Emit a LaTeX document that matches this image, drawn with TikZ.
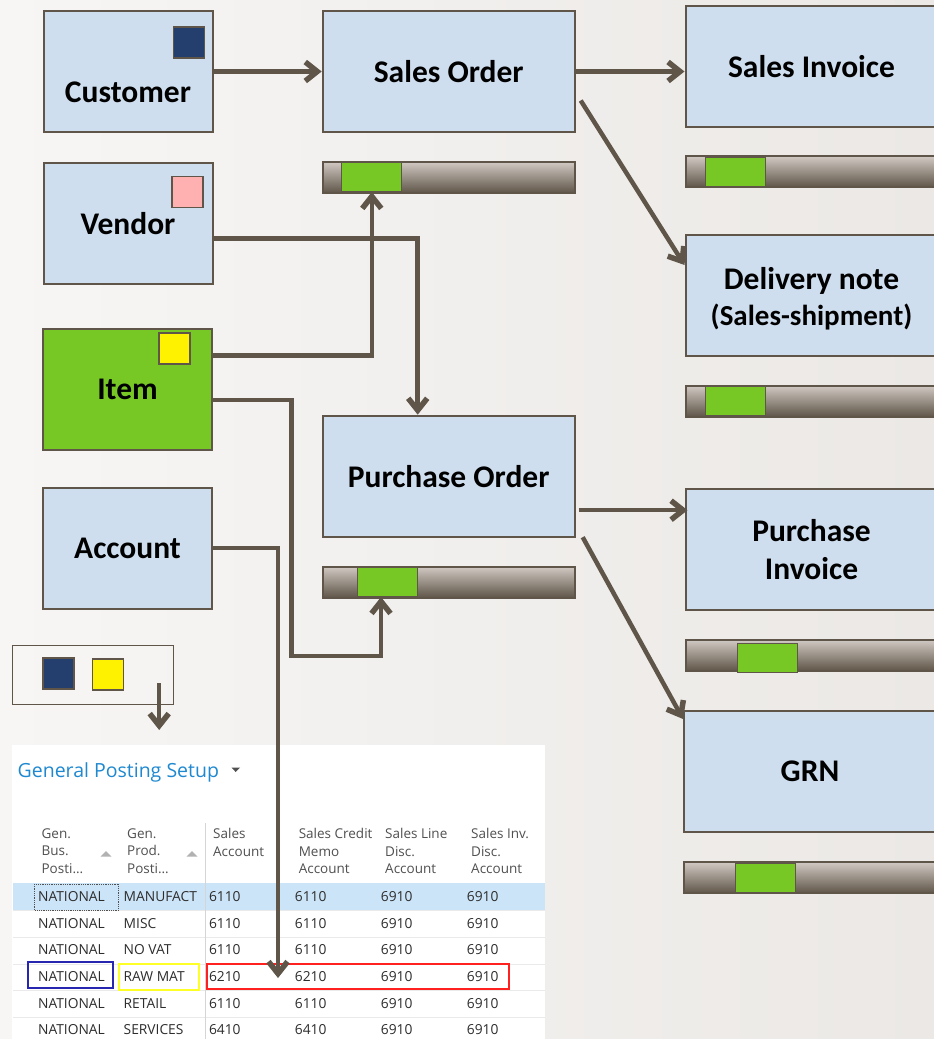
\documentclass[tikz,border=0pt]{standalone}
\usepackage{fontspec}
\setmainfont{Carlito}
\newfontfamily\uifont{Open Sans}
\usepackage{tikz}
\usetikzlibrary{arrows.meta}

\definecolor{linec}{RGB}{95,85,72}
\definecolor{boxblue}{RGB}{207,222,239}
\definecolor{itemgreen}{RGB}{119,200,37}
\definecolor{navy}{RGB}{36,63,110}
\definecolor{pinkish}{RGB}{255,176,176}
\definecolor{barlight}{RGB}{208,200,194}
\definecolor{barmid}{RGB}{165,156,147}
\definecolor{bgl}{RGB}{247,246,245}
\definecolor{bgr}{RGB}{235,232,229}
\definecolor{titleblue}{RGB}{30,136,208}
\definecolor{rowsel}{RGB}{204,228,247}
\definecolor{rowline}{RGB}{234,234,234}
\definecolor{cellc}{RGB}{45,45,45}
\definecolor{hdrc}{RGB}{80,80,80}
\definecolor{selblue}{RGB}{38,38,176}
\definecolor{selyellow}{RGB}{255,255,40}
\definecolor{selred}{RGB}{255,32,32}

\tikzset{
    ent/.style={draw=linec, line width=2pt, fill=boxblue, minimum width=169pt,
        minimum height=121pt, inner sep=0pt, align=center,
        font=\fontsize{31.5}{38}\selectfont\bfseries},
    doc/.style={ent, minimum width=252pt},
    bar/.style={draw=linec, line width=2pt, top color=barlight, middle color=barmid,
        bottom color=linec, minimum width=252pt, minimum height=31pt, inner sep=0pt},
    prog/.style={draw=linec, line width=1pt, fill=itemgreen, minimum width=60pt,
        minimum height=29pt, inner sep=0pt},
    swatch/.style={draw=linec, line width=1.2pt, minimum width=31pt, minimum height=31pt,
        inner sep=0pt},
    conn/.style={draw=linec, line width=4.5pt,
        -{Straight Barb[length=12pt,width=19pt,line width=5.5pt]}},
    hdr/.style={anchor=north west, inner sep=0pt, align=left, text=hdrc,
        font=\uifont\fontsize{13.5}{17.5}\selectfont},
    cell/.style={anchor=base west, inner sep=0pt, text=cellc,
        font=\uifont\fontsize{13.8}{15}\selectfont},
    selbox/.style={draw=#1, line width=2pt, inner sep=0pt}
}

\begin{document}
\begin{tikzpicture}[x=1pt, y=-1pt]
    % Background
    \clip (0,0) rectangle (934,1039);
    \shade[left color=bgl, right color=bgr] (0,0) rectangle (934,1039);

    % Master data
    \node[ent] (customer) at (128,71.5) {};
    \node[font=\fontsize{31.5}{38}\selectfont\bfseries] (customerlbl) at (128,92) {Customer};
    \node[swatch, fill=navy] (custsw) at (189,42.5) {};
    \node[ent] (vendor) at (128,223.5) {Vendor};
    \node[swatch, fill=pinkish] (vendsw) at (187.5,192) {};
    \node[ent, fill=itemgreen] (item) at (127.5,389) {Item};
    \node[swatch, fill=yellow] (itemsw) at (174.5,348.5) {};
    \node[ent] (account) at (127.5,548) {Account};

    % Documents
    \node[doc] (so) at (448.7,71.5) {Sales Order};
    \node[bar] (sobar) at (448.7,177.5) {};
    \node[prog] (soprog) at (371.8,177) {};
    \node[doc] (po) at (448.7,476.2) {Purchase Order};
    \node[bar] (pobar) at (448.7,582.2) {};
    \node[prog] (poprog) at (387,582) {};

    \node[doc] (si) at (811.5,66.3) {Sales Invoice};
    \node[bar] (sibar) at (811.5,171.8) {};
    \node[prog] (siprog) at (735.3,171.8) {};
    \node[doc] (dn) at (811.5,295.5) {};
    \node[align=center, font=\fontsize{31.5}{38}\selectfont\bfseries] (dnlbl) at (811.5,298.5)
        {Delivery note\\[-2pt]{\fontsize{29}{33}\selectfont(Sales-shipment)}};
    \node[bar] (dnbar) at (811.5,401.2) {};
    \node[prog] (dnprog) at (735.3,401.2) {};
    \node[doc] (pi) at (811.5,549.2) {Purchase\\Invoice};
    \node[bar] (pibar) at (811.5,655.4) {};
    \node[prog] (piprog) at (767.2,658) {};
    \node[doc] (grn) at (810,771.5) {GRN};
    \node[bar] (grnbar) at (810,877.8) {};
    \node[prog] (grnprog) at (765.5,877.8) {};

    % Legend
    \node[draw=linec, line width=1.5pt, minimum width=161pt, minimum height=59pt, inner sep=0pt] (legend) at (93,675) {};
    \node[swatch, fill=navy] (legnavy) at (58.4,673.5) {};
    \node[swatch, fill=yellow] (legyellow) at (108,674.5) {};
    \coordinate (legtail) at (159.2,683);
    \coordinate (legtip) at (159.2,730);

    % General Posting Setup
    \fill[white] (12,745) rectangle (545,1039);
    \node[anchor=west, inner sep=0pt, text=titleblue, font=\uifont\fontsize{19.5}{23}\selectfont] (gpstitle) at (17.5,772) {General Posting Setup};
    \fill[hdrc] (231.5,767.5) -- (240,767.5) -- (235.7,772) -- cycle;
    \fill[rowsel] (13,883) rectangle (545,910.7);
    \foreach \yy in {910.7,937.3,964,990.7,1017.3}
        \draw[rowline, line width=1pt] (13,\yy) -- (545,\yy);
    \draw[rowline!80!gray, line width=1pt] (205,823) -- (205,1039);
    \node[hdr] (hbus) at (41.4,828.5) {Gen.\\Bus.\\Posti…};
    \node[hdr] (hprod) at (127,828.5) {Gen.\\Prod.\\Posti…};
    \node[hdr] (hsa) at (213,828.5) {Sales\\Account};
    \node[hdr] (hcm) at (298.6,828.5) {Sales Credit\\Memo\\Account};
    \node[hdr] (hld) at (385,828.5) {Sales Line\\Disc.\\Account};
    \node[hdr] (hid) at (471,828.5) {Sales Inv.\\Disc.\\Account};
    \fill[gray!60] (100.5,856.5) -- (111.5,856.5) -- (106,851) -- cycle;
    \fill[gray!60] (186.5,856.5) -- (197.5,856.5) -- (192,851) -- cycle;
    \foreach \p/\sa/\sc [count=\i from 0] in {MANUFACT/6110/6110, MISC/6110/6110,
        NO VAT/6110/6110, RAW MAT/6210/6210, RETAIL/6110/6110, SERVICES/6410/6410} {
        \pgfmathsetmacro\yy{901.6+26.67*\i}
        \node[cell] (bus\i) at (37.9,\yy) {NATIONAL};
        \node[cell] (prod\i) at (123.5,\yy) {\p};
        \node[cell] (sa\i) at (208.8,\yy) {\sa};
        \node[cell] (cm\i) at (294.7,\yy) {\sc};
        \node[cell] (ld\i) at (380.7,\yy) {6910};
        \node[cell] (id\i) at (466.7,\yy) {6910};
    }
    \draw[densely dotted, hdrc, line width=0.8pt] (34.4,884) rectangle (118.6,910);
    \node[selbox=selblue, minimum width=85pt, minimum height=26pt] (selbus) at (70.5,975) {};
    \node[selbox=selyellow, minimum width=80pt, minimum height=26pt] (selprod) at (158.6,977) {};
    \node[selbox=selred, minimum width=302pt, minimum height=25pt] (selacc) at (358.2,976.5) {};
    \coordinate (accttip) at (278,978);

    % Flows
    \draw[conn] (customer.east) -- (customer.east -| so.west);
    \draw[conn] (so.east) -- (so.east -| si.west);
    \draw[conn] ([shift={(5,29)}]so.east) -- ([shift={(0,31)}]dn.north west);
    \draw[conn] ([shift={(0,15)}]vendor.east) -| ([shift={(-31,0)}]po.north);
    \draw[conn] ([shift={(0,-33.3)}]item.east) -| (soprog.south);
    \coordinate (itembend) at (291.6,656);
    \draw[conn] ([shift={(0,11)}]item.east) -| (itembend) -| ([xshift=-6pt]poprog.south);
    \draw[conn] (account.east) -| (accttip);
    \draw[conn] ([shift={(3,34)}]po.east) -- ([shift={(3,34)}]po.east -| pi.west);
    \draw[conn] ([shift={(7,61)}]po.east) -- ([shift={(0,9)}]grn.north west);
    \draw[conn] (legtail) -- (legtip);
\end{tikzpicture}
\end{document}
